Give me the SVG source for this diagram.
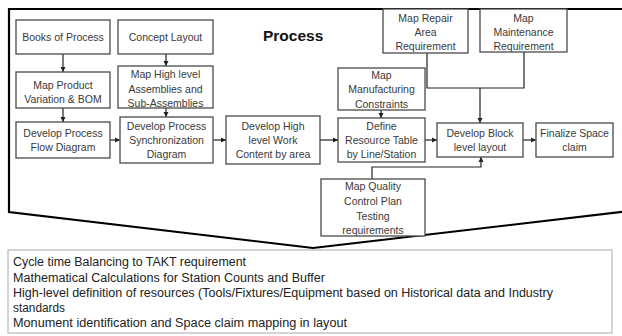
<svg xmlns="http://www.w3.org/2000/svg" width="622" height="336" viewBox="0 0 622 336">
<defs>
<marker id="ah" markerWidth="6" markerHeight="6" refX="5" refY="3" orient="auto" markerUnits="userSpaceOnUse">
<path d="M0,0.5 L5,3 L0,5.5 Z" fill="#222"/>
</marker>
<style>
.box{fill:#fff;stroke:#4a4a4a;stroke-width:1.3}
.t{font-family:"Liberation Sans",Arial,sans-serif;font-size:10.5px;fill:#3a3a3a;text-anchor:middle}
.c{fill:none;stroke:#222;stroke-width:1.2}
.b{font-family:"Liberation Sans",Arial,sans-serif;font-size:12.5px;fill:#222}
</style>
</defs>
<rect width="622" height="336" fill="#fff"/>
<path d="M630,9 H9 V212 L313,248 L630,211" fill="none" stroke="#000" stroke-width="2.2"/>
<text x="263" y="41" font-family="Liberation Sans,Arial,sans-serif" font-size="15.5" font-weight="bold" fill="#111">Process</text>

<g id="connectors">
<line class="c" x1="63" y1="54" x2="63" y2="72" marker-end="url(#ah)"/>
<line class="c" x1="166" y1="54" x2="166" y2="66" marker-end="url(#ah)"/>
<line class="c" x1="63" y1="108" x2="63" y2="122" marker-end="url(#ah)"/>
<line class="c" x1="166" y1="108" x2="166" y2="117" marker-end="url(#ah)"/>
<line class="c" x1="110" y1="140" x2="120" y2="140" marker-end="url(#ah)"/>
<line class="c" x1="213" y1="140" x2="226" y2="140" marker-end="url(#ah)"/>
<line class="c" x1="320" y1="140" x2="338" y2="140" marker-end="url(#ah)"/>
<line class="c" x1="381" y1="110" x2="381" y2="118" marker-end="url(#ah)"/>
<line class="c" x1="425" y1="140" x2="437" y2="140" marker-end="url(#ah)"/>
<line class="c" x1="523" y1="140" x2="536" y2="140" marker-end="url(#ah)"/>
<polyline class="c" points="427,53 427,88 524,88 524,52"/>
<line class="c" x1="480" y1="88" x2="480" y2="123" marker-end="url(#ah)"/>
<polyline class="c" points="372,179 372,167 481,167 481,157" marker-end="url(#ah)"/>
</g>

<g id="books"><rect class="box" x="16" y="20" width="94" height="34"/><text class="t" x="63" y="41">Books of Process</text></g>
<g id="concept"><rect class="box" x="118" y="20" width="95" height="34"/><text class="t" x="165.5" y="41">Concept Layout</text></g>
<g id="mapProduct"><rect class="box" x="16" y="72" width="94" height="36"/><text class="t" x="63" y="89">Map Product</text><text class="t" x="63" y="103">Variation &amp; BOM</text></g>
<g id="mapHigh"><rect class="box" x="118" y="66" width="95" height="42"/><text class="t" x="165.5" y="78">Map High level</text><text class="t" x="165.5" y="93">Assemblies and</text><text class="t" x="165.5" y="107">Sub-Assemblies</text></g>
<g id="devFlow"><rect class="box" x="16" y="122" width="94" height="36"/><text class="t" x="63" y="137">Develop Process</text><text class="t" x="63" y="151">Flow Diagram</text></g>
<g id="devSync"><rect class="box" x="120" y="117" width="93" height="46"/><text class="t" x="166.5" y="130">Develop Process</text><text class="t" x="166.5" y="144">Synchronization</text><text class="t" x="166.5" y="158">Diagram</text></g>
<g id="devHigh"><rect class="box" x="226" y="116" width="94" height="48"/><text class="t" x="273" y="130">Develop High</text><text class="t" x="273" y="144">level Work</text><text class="t" x="273" y="158">Content by area</text></g>
<g id="repair"><rect class="box" x="383" y="9" width="85" height="44"/><text class="t" x="425.5" y="22">Map Repair</text><text class="t" x="425.5" y="36">Area</text><text class="t" x="425.5" y="50">Requirement</text></g>
<g id="maint"><rect class="box" x="480" y="9" width="87" height="43"/><text class="t" x="523.5" y="22">Map</text><text class="t" x="523.5" y="36">Maintenance</text><text class="t" x="523.5" y="50">Requirement</text></g>
<g id="mfg"><rect class="box" x="338" y="68" width="87" height="42"/><text class="t" x="381.5" y="79">Map</text><text class="t" x="381.5" y="93">Manufacturing</text><text class="t" x="381.5" y="108">Constraints</text></g>
<g id="define"><rect class="box" x="338" y="118" width="87" height="44"/><text class="t" x="381.5" y="130">Define</text><text class="t" x="381.5" y="144">Resource Table</text><text class="t" x="381.5" y="158">by Line/Station</text></g>
<g id="block"><rect class="box" x="437" y="123" width="86" height="34"/><text class="t" x="480" y="137">Develop Block</text><text class="t" x="480" y="151">level layout</text></g>
<g id="finalize"><rect class="box" x="536" y="123" width="77" height="34"/><text class="t" x="574.5" y="137">Finalize Space</text><text class="t" x="574.5" y="151">claim</text></g>
<g id="quality"><rect class="box" x="321" y="179" width="104" height="57"/><text class="t" x="373" y="190">Map Quality</text><text class="t" x="373" y="205">Control Plan</text><text class="t" x="373" y="220">Testing</text><text class="t" x="373" y="234">requirements</text></g>

<g id="notes">
<rect x="8" y="250" width="604" height="83" fill="#fff" stroke="#aaa" stroke-width="1"/>
<text class="b" x="13" y="266" textLength="233" lengthAdjust="spacingAndGlyphs">Cycle time Balancing to TAKT requirement</text>
<text class="b" x="13" y="282" textLength="312" lengthAdjust="spacingAndGlyphs">Mathematical Calculations for Station Counts and Buffer</text>
<text class="b" x="13" y="297" textLength="540" lengthAdjust="spacingAndGlyphs">High-level definition of resources (Tools/Fixtures/Equipment based on Historical data and Industry</text>
<text class="b" x="13" y="312" textLength="52" lengthAdjust="spacingAndGlyphs">standards</text>
<text class="b" x="13" y="327" textLength="334" lengthAdjust="spacingAndGlyphs">Monument identification and Space claim mapping in layout</text>
</g>
</svg>
